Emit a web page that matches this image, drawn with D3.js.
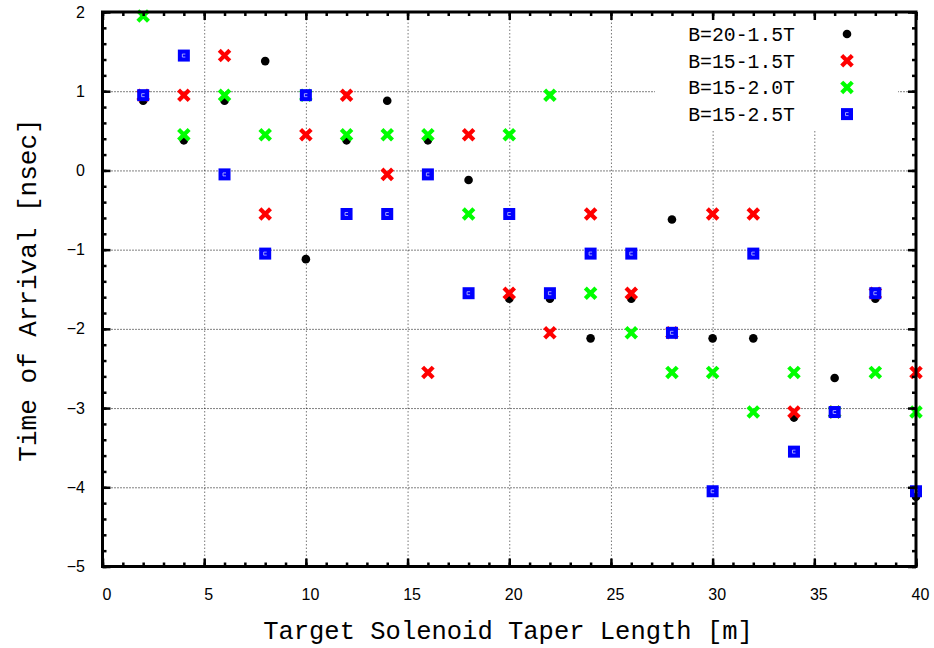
<!DOCTYPE html>
<html lang="en">
	<head>
		<meta charset="utf-8">
		<title> Time of arrival vs taper length </title>
		<script type="text/javascript" src="https://cdn.jsdelivr.net/npm/d3@7/dist/d3.min.js"></script>
		<style>
			body { margin: 0; background: #fff; }
			.tick text { font-family: "Liberation Sans", Arial, sans-serif; font-size: 16px; fill: #000; }
		</style>
	</head>
	<body>
		<script type="text/javascript">

			// taper length [m]
			var lengths = [2, 4, 6, 8, 10, 12, 14, 16, 18, 20, 22, 24, 26, 28, 30, 32, 34, 36, 38, 40];

			// time of arrival [nsec] per field setting
			var b20_15 = [0.88, 0.38, 0.88, 1.38, -1.12, 0.38, 0.88, 0.38, -0.12, -1.62, -1.62, -2.12, -1.62, -0.62, -2.12, -2.12, -3.12, -2.62, -1.62, -4.12];
			var b15_15 = [0.95, 0.95, 1.45, -0.55, 0.45, 0.95, -0.05, -2.55, 0.45, -1.55, -2.05, -0.55, -1.55, -2.05, -0.55, -0.55, -3.05, -3.05, -1.55, -2.55];
			var b15_20 = [1.95, 0.45, 0.95, 0.45, 0.95, 0.45, 0.45, 0.45, -0.55, 0.45, 0.95, -1.55, -2.05, -2.55, -2.55, -3.05, -2.55, -3.05, -2.55, -3.05];
			var b15_25 = [0.95, 1.45, -0.05, -1.05, 0.95, -0.55, -0.55, -0.05, -1.55, -0.55, -1.55, -1.05, -1.05, -2.05, -4.05, -1.05, -3.55, -3.05, -1.55, -4.05];

			var seriesNames = ["B=20-1.5T", "B=15-1.5T", "B=15-2.0T", "B=15-2.5T"];
			var seriesColors = ["#000000", "#ff0000", "#00ff00", "#0000ff"];
			var seriesShapes = ["dot", "cross", "cross", "square"];
			var seriesValues = [b20_15, b15_15, b15_20, b15_25];

			var xTicks = [0, 5, 10, 15, 20, 25, 30, 35, 40];
			var yTicks = [-5, -4, -3, -2, -1, 0, 1, 2];

			var margin = {top: 12, left: 102.5, bottom: 81.5, right: 18};
			var width = 934 - margin.left - margin.right;
			var height = 648 - margin.top - margin.bottom;

			var svg = d3.select("body")
						.append("svg")
						.attr("width", 934)
						.attr("height", 648);

			var g = svg.append("g")
						.attr("transform", "translate(" + margin.left + "," + margin.top + ")");

			var xscale = d3.scaleLinear()
							.domain([0, 40])
							.range([0, width]);

			var yscale = d3.scaleLinear()
							.domain([-5, 2])
							.range([height, 0]);

			var xMinor = d3.range(0, 41, 1);
			var yMinor = d3.range(-5, 2.001, 0.2);

			// grid
			g.append("g")
				.attr("class", "xgrid")
				.attr("transform", "translate(0," + height + ")")
				.call(d3.axisBottom(xscale).tickValues(xTicks.slice(1, -1)).tickSize(-height).tickFormat(""))
				.call(function(s){ s.select(".domain").remove(); })
				.selectAll("line")
				.attr("stroke", "#777")
				.attr("stroke-width", 1)
				.attr("stroke-dasharray", "1.5,2");

			g.append("g")
				.attr("class", "ygrid")
				.call(d3.axisLeft(yscale).tickValues(yTicks.slice(1, -1)).tickSize(-width).tickFormat(""))
				.call(function(s){ s.select(".domain").remove(); })
				.selectAll("line")
				.attr("stroke", "#000")
				.attr("stroke-width", 1)
				.attr("stroke-dasharray", "1,2");

			// key background hides the grid
			g.append("rect")
				.attr("x", 655 - margin.left)
				.attr("y", 3)
				.attr("width", 898 - 655)
				.attr("height", 116)
				.attr("fill", "#fff");

			// points
			function drawMarker(sel, shape, color) {
				if (shape === "dot") {
					sel.append("circle")
						.attr("r", 4.3)
						.attr("fill", color);
				} else if (shape === "cross") {
					sel.append("path")
						.attr("d", "M-3.8,-3.8L3.8,3.8M-3.8,3.8L3.8,-3.8")
						.attr("stroke", color)
						.attr("stroke-width", 4.2)
						.attr("stroke-linecap", "square")
						.attr("fill", "none");
				} else {
					sel.append("rect")
						.attr("x", -6).attr("y", -6)
						.attr("width", 12).attr("height", 12)
						.attr("fill", color);
					sel.append("path")
						.attr("d", "M1.5,-1.5H-1.5V1.5H1.5")
						.attr("stroke", "#c8c8ff")
						.attr("stroke-width", 0.8)
						.attr("fill", "none");
				}
			}

			seriesValues.forEach(function(vals, i) {
				var pts = g.append("g")
							.attr("class", "series" + i)
							.selectAll("g")
							.data(lengths.map(function(d, j){ return [d, vals[j]]; }))
							.enter()
							.append("g")
							.attr("transform", function(d){ return "translate(" + xscale(d[0]) + "," + yscale(d[1]) + ")"; });
				drawMarker(pts, seriesShapes[i], seriesColors[i]);
			});

			// ticks, all inward
			function styleTicks(s, w) {
				s.select(".domain").remove();
				s.selectAll("line").attr("stroke", "#000").attr("stroke-width", w);
			}

			g.append("g")
				.attr("transform", "translate(0," + height + ")")
				.call(d3.axisBottom(xscale).tickValues(xMinor).tickSize(-4).tickFormat(""))
				.call(styleTicks, 2.5);
			g.append("g")
				.call(d3.axisTop(xscale).tickValues(xMinor).tickSize(-4).tickFormat(""))
				.call(styleTicks, 2.5);
			g.append("g")
				.call(d3.axisLeft(yscale).tickValues(yMinor).tickSize(-4).tickFormat(""))
				.call(styleTicks, 2.5);
			g.append("g")
				.attr("transform", "translate(" + width + ",0)")
				.call(d3.axisRight(yscale).tickValues(yMinor).tickSize(-4).tickFormat(""))
				.call(styleTicks, 2.5);

			var xAxis = g.append("g")
				.attr("class", "xaxis")
				.attr("transform", "translate(0," + height + ")")
				.call(d3.axisBottom(xscale).tickValues(xTicks).tickSize(-8).tickPadding(22).tickFormat(d3.format("d")))
				.call(styleTicks, 2.5);
			xAxis.selectAll("text").attr("dx", 4);

			g.append("g")
				.attr("class", "yaxis")
				.call(d3.axisLeft(yscale).tickValues(yTicks).tickSize(-8).tickPadding(17.5).tickFormat(function(d){ return d < 0 ? "\u2212" + Math.abs(d) : d; }))
				.call(styleTicks, 2.5);

			g.append("g")
				.call(d3.axisTop(xscale).tickValues(xTicks).tickSize(-8).tickFormat(""))
				.call(styleTicks, 2.5);
			g.append("g")
				.attr("transform", "translate(" + width + ",0)")
				.call(d3.axisRight(yscale).tickValues(yTicks).tickSize(-8).tickFormat(""))
				.call(styleTicks, 2.5);

			// border
			g.append("rect")
				.attr("width", width)
				.attr("height", height)
				.attr("fill", "none")
				.attr("stroke", "#000")
				.attr("stroke-width", 3);

			// key
			var key = svg.append("g")
						.attr("class", "key");
			seriesNames.forEach(function(name, i) {
				var ky = 34 + i * 26.7;
				key.append("text")
					.attr("x", 795)
					.attr("y", ky)
					.attr("dy", "0.35em")
					.attr("text-anchor", "end")
					.style("font-family", "'Liberation Mono', 'Courier New', monospace")
					.style("font-size", "19.8px")
					.text(name);
				var m = key.append("g")
							.attr("transform", "translate(847," + ky + ")");
				drawMarker(m, seriesShapes[i], seriesColors[i]);
			});

			// axis titles
			svg.append("text")
				.attr("x", 508)
				.attr("y", 639)
				.attr("text-anchor", "middle")
				.style("font-family", "'Liberation Mono', 'Courier New', monospace")
				.style("font-size", "25.5px")
				.text("Target Solenoid Taper Length [m]");

			svg.append("text")
				.attr("transform", "translate(36,290) rotate(-90)")
				.attr("text-anchor", "middle")
				.style("font-family", "'Liberation Mono', 'Courier New', monospace")
				.style("font-size", "26px")
				.text("Time of Arrival [nsec]");

		</script>
	</body>
</html>
